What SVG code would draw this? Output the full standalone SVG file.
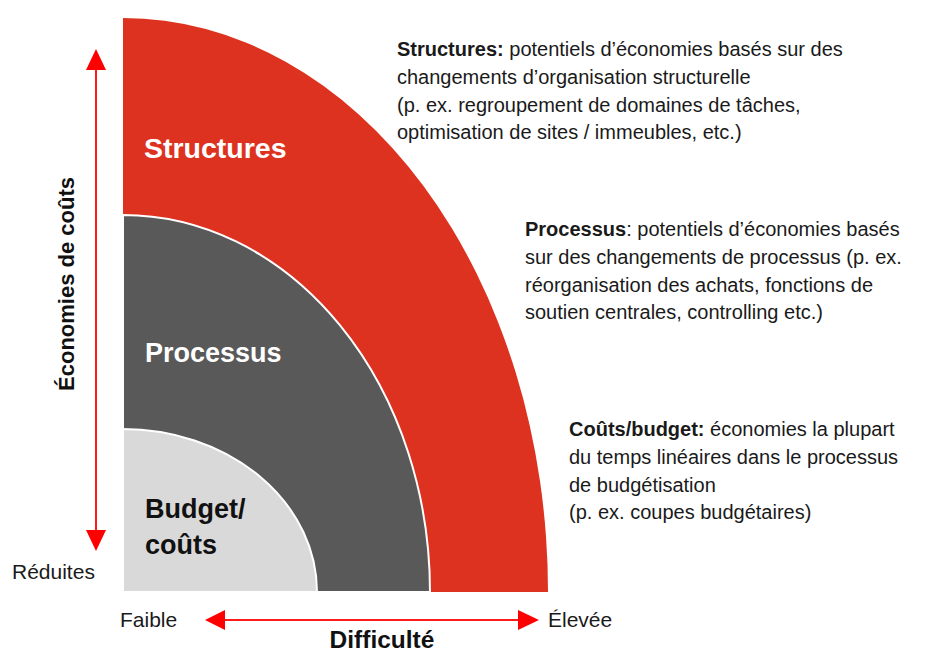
<svg xmlns="http://www.w3.org/2000/svg" width="928" height="652" viewBox="0 0 928 652">
<defs>
<style>
.lbl{font-family:"Liberation Sans",Arial,sans-serif;font-weight:bold;font-size:27px}
.desc{font-family:"Liberation Sans",Arial,sans-serif;font-size:20px;fill:#1a1a1a}
.desc .b{font-weight:bold}
.ax{font-family:"Liberation Sans",Arial,sans-serif;font-size:21px;fill:#1a1a1a}
.axb{font-family:"Liberation Sans",Arial,sans-serif;font-size:22px;font-weight:bold;fill:#111}
.arr{stroke:#ff1a1a;stroke-width:2;fill:none}
.head{fill:#ff0000}
</style>
</defs>
<rect width="928" height="652" fill="#ffffff"/>
<g id="structures">
<path d="M123,592 L123,18 A425,574 0 0 1 548,592 Z" fill="#de3220"/>
<text class="lbl" x="144" y="158" fill="#ffffff" style="font-size:28.5px">Structures</text>
</g>
<g id="processus">
<path d="M123,592 L123,215 A307,377 0 0 1 430,592 Z" fill="#595959" stroke="#ffffff" stroke-width="2"/>
<text class="lbl" x="145" y="362" fill="#ffffff">Processus</text>
</g>
<g id="budget">
<path d="M123,592 L123,429 A194,163 0 0 1 317,592 Z" fill="#d9d9d9" stroke="#ffffff" stroke-width="2"/>
<text class="lbl" x="145" y="518" fill="#111111">Budget/</text>
<text class="lbl" x="145" y="554" fill="#111111">coûts</text>
</g>
<g id="connectors">
<line class="arr" x1="96" y1="68" x2="96" y2="532"/>
<polygon class="head" points="96,49 86,70 106,70"/>
<polygon class="head" points="96,551 86,530 106,530"/>
<line class="arr" x1="223" y1="620" x2="520" y2="620"/>
<polygon class="head" points="205,620 225,610 225,630"/>
<polygon class="head" points="539,620 518,610 518,630"/>
</g>
<g id="axis-labels">
<text class="axb" transform="translate(74,284) rotate(-90)" text-anchor="middle">Économies de coûts</text>
<text class="ax" x="12" y="579">Réduites</text>
<text class="ax" x="120" y="627">Faible</text>
<text class="ax" x="548" y="627">Élevée</text>
<text class="axb" x="382" y="648" text-anchor="middle" style="font-size:24.5px">Difficulté</text>
</g>
<g id="desc-structures">
<text class="desc" x="397" y="56"><tspan class="b">Structures:</tspan> potentiels d’économies basés sur des</text>
<text class="desc" x="397" y="84">changements d’organisation structurelle</text>
<text class="desc" x="397" y="112">(p. ex. regroupement de domaines de tâches,</text>
<text class="desc" x="397" y="139">optimisation de sites / immeubles, etc.)</text>
</g>
<g id="desc-processus">
<text class="desc" x="525" y="236"><tspan class="b">Processus</tspan>: potentiels d’économies basés</text>
<text class="desc" x="525" y="264">sur des changements de processus (p. ex.</text>
<text class="desc" x="525" y="292">réorganisation des achats, fonctions de</text>
<text class="desc" x="525" y="319">soutien centrales, controlling etc.)</text>
</g>
<g id="desc-couts">
<text class="desc" x="569" y="436"><tspan class="b">Coûts/budget:</tspan> économies la plupart</text>
<text class="desc" x="569" y="464">du temps linéaires dans le processus</text>
<text class="desc" x="569" y="492">de budgétisation</text>
<text class="desc" x="569" y="519">(p. ex. coupes budgétaires)</text>
</g>
</svg>
